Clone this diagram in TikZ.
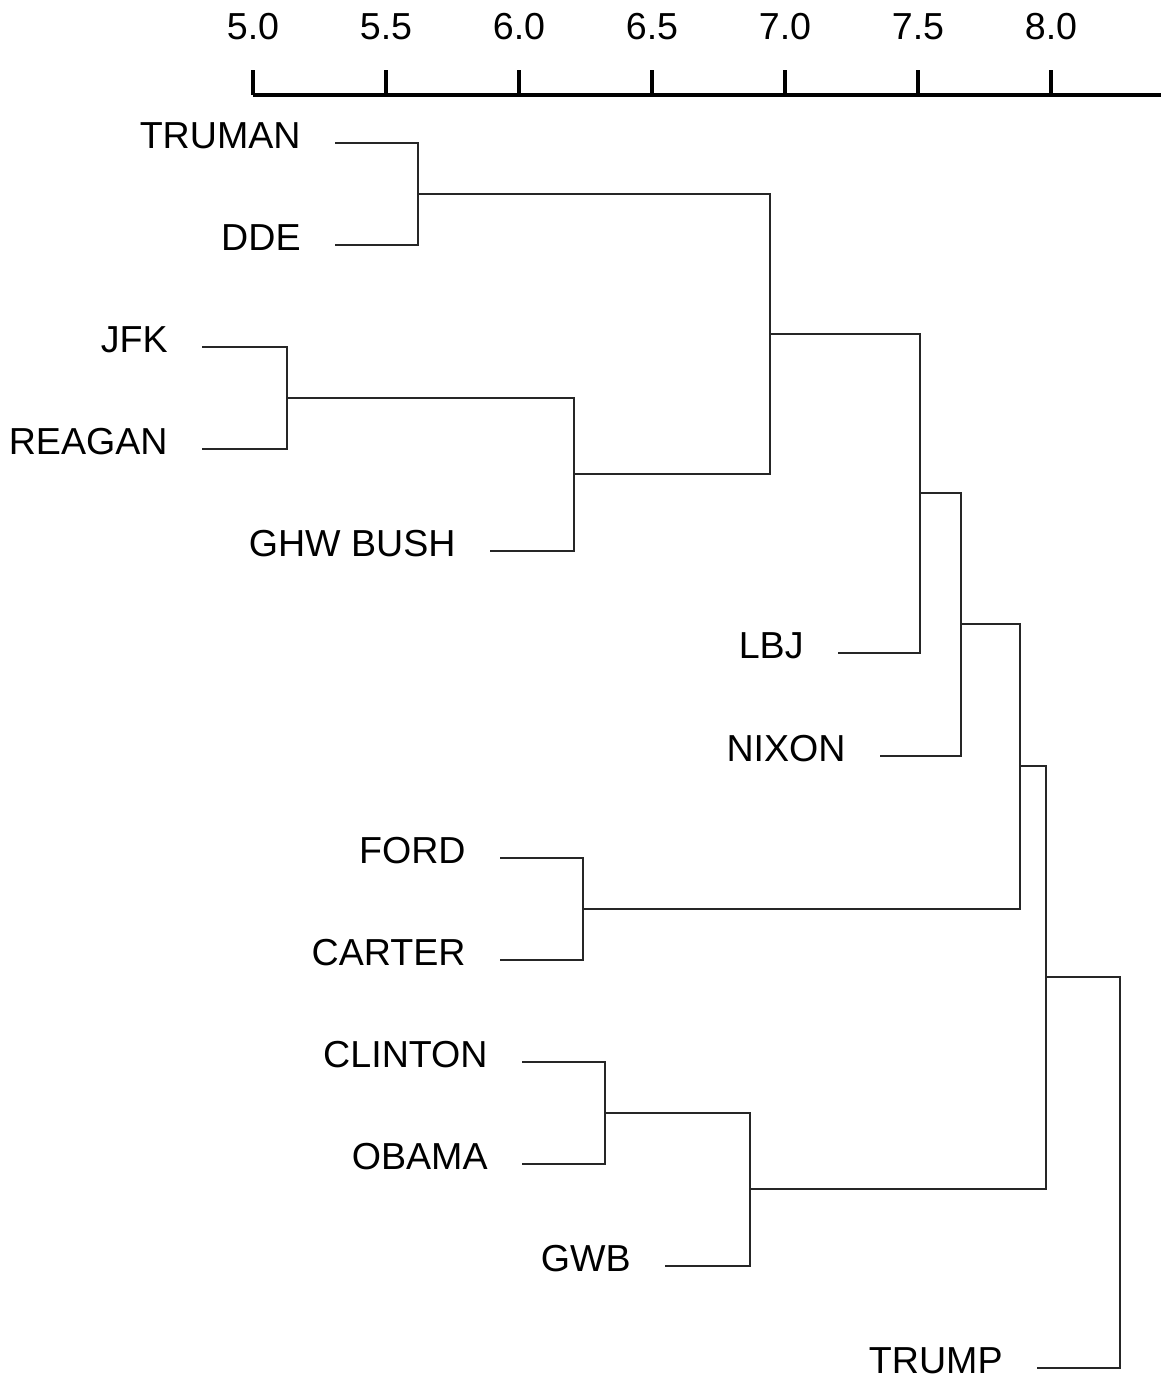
\documentclass[tikz,border=0pt]{standalone}
\usepackage{fontspec}
\setmainfont{Liberation Sans}
\usepackage{tikz}
\usetikzlibrary{positioning}

\begin{document}
\begin{tikzpicture}[
			x=0.5pt, y=-0.5pt,
			every node/.style={font=\fontsize{18.8}{22}\selectfont, inner sep=0pt},
			leaf/.style={anchor=east},
			link/.style={draw=black!85, line width=1pt},
			axisline/.style={draw=black, line width=2pt}
		]
		\useasboundingbox (0,0) rectangle (1161,1378);

		% scale on top
		\draw[axisline] (253,95) -- (1161,95);
		\foreach \v [count=\i from 0] in {5.0,5.5,6.0,6.5,7.0,7.5,8.0} {
			\draw[axisline] (253+133*\i,95) -- (253+133*\i,70);
			\node (tick\i) at (253+133*\i,27) {\v};
		}

		% leaf ends
		\coordinate (truman) at (335,143);
		\coordinate (dde) at (335,245);
		\coordinate (jfk) at (202,347);
		\coordinate (reagan) at (202,449);
		\coordinate (ghwbush) at (490,551);
		\coordinate (lbj) at (838,653);
		\coordinate (nixon) at (880,756);
		\coordinate (ford) at (500,858);
		\coordinate (carter) at (500,960);
		\coordinate (clinton) at (522,1062);
		\coordinate (obama) at (522,1164);
		\coordinate (gwb) at (665,1266);
		\coordinate (trump) at (1037,1368);

		\node[leaf, left=17pt of truman, anchor=east, yshift=3.5pt] (lTruman) {TRUMAN};
		\node[leaf, left=17pt of dde, anchor=east, yshift=3.5pt] (lDde) {DDE};
		\node[leaf, left=17pt of jfk, anchor=east, yshift=3.5pt] (lJfk) {JFK};
		\node[leaf, left=17pt of reagan, anchor=east, yshift=3.5pt] (lReagan) {REAGAN};
		\node[leaf, left=17pt of ghwbush, anchor=east, yshift=3.5pt] (lGhwbush) {GHW BUSH};
		\node[leaf, left=17pt of lbj, anchor=east, yshift=3.5pt] (lLbj) {LBJ};
		\node[leaf, left=17pt of nixon, anchor=east, yshift=3.5pt] (lNixon) {NIXON};
		\node[leaf, left=17pt of ford, anchor=east, yshift=3.5pt] (lFord) {FORD};
		\node[leaf, left=17pt of carter, anchor=east, yshift=3.5pt] (lCarter) {CARTER};
		\node[leaf, left=17pt of clinton, anchor=east, yshift=3.5pt] (lClinton) {CLINTON};
		\node[leaf, left=17pt of obama, anchor=east, yshift=3.5pt] (lObama) {OBAMA};
		\node[leaf, left=17pt of gwb, anchor=east, yshift=3.5pt] (lGwb) {GWB};
		\node[leaf, left=17pt of trump, anchor=east, yshift=3.5pt] (lTrump) {TRUMP};

		% merge points
		\coordinate (m1) at (418,194);
		\coordinate (m2) at (287,398);
		\coordinate (m3) at (574,474);
		\coordinate (m4) at (770,334);
		\coordinate (m5) at (920,493);
		\coordinate (m6) at (961,624);
		\coordinate (m7) at (583,909);
		\coordinate (m8) at (1020,766);
		\coordinate (m9) at (605,1113);
		\coordinate (m10) at (750,1189);
		\coordinate (m11) at (1046,977);
		\coordinate (root) at (1120,1172);

		\draw[link] (truman) -| (m1) (dde) -| (m1);
		\draw[link] (jfk) -| (m2) (reagan) -| (m2);
		\draw[link] (m2) -| (m3) (ghwbush) -| (m3);
		\draw[link] (m1) -| (m4) (m3) -| (m4);
		\draw[link] (m4) -| (m5) (lbj) -| (m5);
		\draw[link] (m5) -| (m6) (nixon) -| (m6);
		\draw[link] (ford) -| (m7) (carter) -| (m7);
		\draw[link] (m6) -| (m8) (m7) -| (m8);
		\draw[link] (clinton) -| (m9) (obama) -| (m9);
		\draw[link] (m9) -| (m10) (gwb) -| (m10);
		\draw[link] (m8) -| (m11) (m10) -| (m11);
		\draw[link] (m11) -| (root) (trump) -| (root);
	\end{tikzpicture}
\end{document}
